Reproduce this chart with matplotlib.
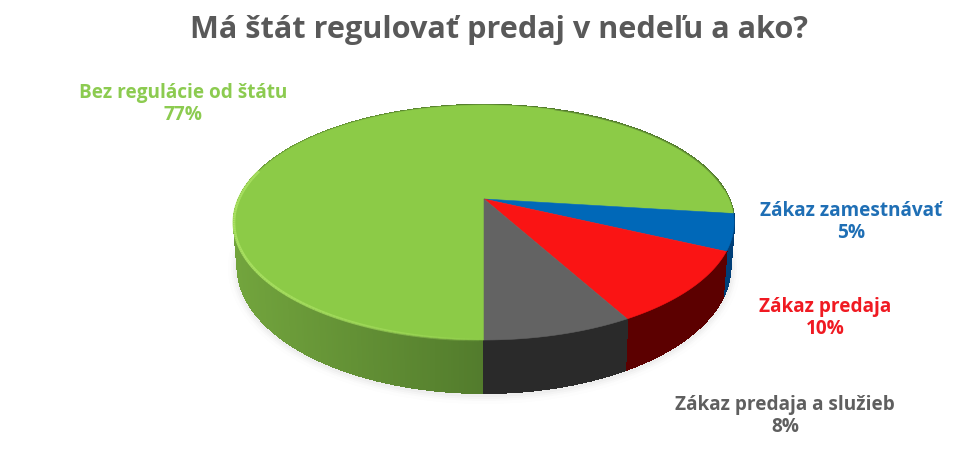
import numpy as np
import matplotlib
matplotlib.use('Agg')
import matplotlib.pyplot as plt
from matplotlib.collections import PolyCollection, LineCollection
from matplotlib.patches import Polygon, Ellipse
from matplotlib.colors import to_rgb

TITLE = 'Má štát regulovať predaj v nedeľu a ako?'
labels = ['Bez regulácie od štátu', 'Zákaz zamestnávať', 'Zákaz predaja', 'Zákaz predaja a služieb']
values = [77, 5, 10, 8]

top_colors = ['#8ccb47', '#0068b8', '#fa1414', '#636363']
side_left = ['#72a43d', '#003f78', '#650000', '#303030']
side_right = ['#527b2c', '#003f78', '#5c0000', '#2a2a2a']
text_colors = ['#8ccb50', '#1f6fb5', '#f01a22', '#5f5f5f']
label_pos = [(183, 104), (851, 222), (825, 318), (785, 416)]

# pie geometry in pixels, the 3d look is a plain perspective of a circle
APEX_X, APEX_Y = 484, 199
A, B, K = 112.8, 245.0, 0.2
DROP, BOTTOM_SX, BOTTOM_SY = 42, 0.985, 1.077


def project(theta, sx=1.0, sy=1.0, drop=0.0):
    # theta is clockwise from 12 o'clock, in degrees
    t = np.radians(theta)
    x, y = np.sin(t), np.cos(t)
    w = 1 + K * y
    return APEX_X + sx * B * x / w, APEX_Y + drop - sy * A * y / w


fig = plt.figure(figsize=(9.69, 4.58), dpi=100, facecolor='white')
ax = fig.add_axes([0, 0, 1, 1])
ax.set_xlim(0, 969)
ax.set_ylim(458, 0)
ax.axis('off')

# soft shadow under the pie
for grow, alpha in [(9, 0.012), (6, 0.02), (4, 0.03), (2, 0.04)]:
    ax.add_patch(Ellipse((APEX_X, 268), 2 * (247 + grow), 2 * (127 + grow),
                         fc='#606060', ec='none', alpha=alpha, zorder=1))

total = sum(values)
edges = 180 + np.cumsum([0] + values) * 360 / total

# side wall first
quads, quad_colors = [], []
for i in range(len(values)):
    angles = np.linspace(edges[i], edges[i + 1], max(int(edges[i + 1] - edges[i]) * 2, 8))
    c0, c1 = np.array(to_rgb(side_left[i])), np.array(to_rgb(side_right[i]))
    for a0, a1 in zip(angles[:-1], angles[1:]):
        x0, y0 = project(a0)
        x1, y1 = project(a1)
        x2, y2 = project(a1, BOTTOM_SX, BOTTOM_SY, DROP)
        x3, y3 = project(a0, BOTTOM_SX, BOTTOM_SY, DROP)
        quads.append([(x0, y0), (x1, y1), (x2, y2), (x3, y3)])
        mix = np.clip(((x0 + x1) / 2 - 235) / 250, 0, 1)
        quad_colors.append(c0 + (c1 - c0) * mix)
ax.add_collection(PolyCollection(quads, facecolors=quad_colors, edgecolors=quad_colors,
                                 linewidths=1.0, antialiaseds=False, zorder=2))

# top face
for i in range(len(values)):
    angles = np.linspace(edges[i], edges[i + 1], 200)
    xs, ys = project(angles)
    pts = np.column_stack([np.r_[APEX_X, xs], np.r_[APEX_Y, ys]])
    ax.add_patch(Polygon(pts, closed=True, fc=top_colors[i], ec=top_colors[i], lw=0.4, zorder=3))

# bevel highlight on the green rim, fades out to the bottom
rim = np.linspace(180, 285, 120)
rx, ry = project(rim)
rim_pts = np.column_stack([rx, ry])
segs = np.stack([rim_pts[:-1], rim_pts[1:]], axis=1)
fade = np.clip((rx[:-1] - 484) / -250, 0, 1) ** 0.6
rim_colors = [(0.66, 0.88, 0.38, f) for f in fade]
ax.add_collection(LineCollection(segs, colors=rim_colors, linewidths=2.0, zorder=4))

# dark thin edge on the back right of the top face
back = np.linspace(20, 85, 60)
bx, by = project(back)
back_pts = np.column_stack([bx, by])
segs = np.stack([back_pts[:-1], back_pts[1:]], axis=1)
ax.add_collection(LineCollection(segs, colors=[(0.3, 0.42, 0.18, 0.5)], linewidths=0.8, zorder=4))

ax.text(499, 30, TITLE, ha='center', va='center', fontsize=22.1, fontweight='bold',
        family='Open Sans', color='#595959', zorder=5)

for name, val, col, (tx, ty) in zip(labels, values, text_colors, label_pos):
    ax.text(tx, ty, f'{name}\n{val}%', ha='center', va='center', fontsize=13.7,
            fontweight='bold', family='Open Sans', color=col, linespacing=1.07, zorder=5)

fig.savefig('out.png', dpi=100, facecolor='white')
